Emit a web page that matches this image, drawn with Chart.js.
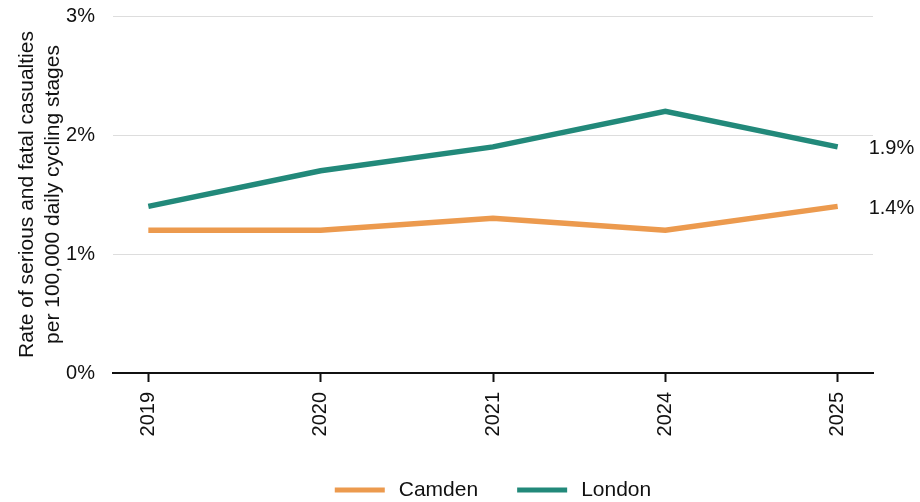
<!DOCTYPE html>
<html>
<head>
<meta charset="utf-8">
<script src="https://cdn.jsdelivr.net/npm/chart.js@4"></script>
<style>
  html, body { margin: 0; padding: 0; background: #fff; }
  #wrap { width: 920px; height: 502px; }
</style>
</head>
<body>
<div id="wrap"><canvas id="chart" width="920" height="502"></canvas></div>
<script>
var years = ['2019', '2020', '2021', '2024', '2025'];
var camden = [1.2, 1.2, 1.3, 1.2, 1.4];
var london = [1.4, 1.7, 1.9, 2.2, 1.9];
var yTicks = [0, 1, 2, 3];

var orange = '#EC9A4E';
var teal = '#22897A';
var fontFamily = '"Liberation Sans", Arial, sans-serif';

function points(values) {
    return values.map(function (v, i) {
        return { x: i, y: v };
    });
}

// value labels next to the last point of each line
var endLabels = {
    id: 'endLabels',
    afterDatasetsDraw: function (chart) {
        var ctx = chart.ctx;
        ctx.save();
        ctx.font = '20px ' + fontFamily;
        ctx.fillStyle = '#111';
        ctx.textAlign = 'left';
        ctx.textBaseline = 'middle';
        chart.data.datasets.forEach(function (ds, i) {
            var meta = chart.getDatasetMeta(i);
            var last = meta.data[meta.data.length - 1];
            var v = ds.data[ds.data.length - 1].y;
            ctx.fillText(v.toFixed(1) + '%', last.x + 31, last.y + 2);
        });
        ctx.restore();
    }
};

// line-sample legend centred under the plot area
var bottomLegend = {
    id: 'bottomLegend',
    afterDraw: function (chart) {
        var ctx = chart.ctx;
        var area = chart.chartArea;
        var sample = 50, gap = 14, between = 39;
        ctx.save();
        ctx.font = '21px ' + fontFamily;
        ctx.textBaseline = 'middle';
        ctx.textAlign = 'left';
        var widths = chart.data.datasets.map(function (ds) {
            return sample + gap + ctx.measureText(ds.label).width;
        });
        var total = widths.reduce(function (a, b) { return a + b; }, 0) + between * (widths.length - 1);
        var x = (area.left + area.right) / 2 - total / 2;
        var y = 490;
        chart.data.datasets.forEach(function (ds, i) {
            ctx.fillStyle = ds.borderColor;
            ctx.fillRect(x, y - 2.5, sample, 5);
            ctx.fillStyle = '#111';
            ctx.fillText(ds.label, x + sample + gap, y);
            x += widths[i] + between;
        });
        ctx.restore();
    }
};

var ctx = document.getElementById('chart');

var chart = new Chart(ctx, {
    type: 'line',
    data: {
        datasets: [
            {
                label: 'Camden',
                data: points(camden),
                borderColor: orange,
                backgroundColor: orange,
                borderWidth: 5.5,
                pointRadius: 0,
                tension: 0
            },
            {
                label: 'London',
                data: points(london),
                borderColor: teal,
                backgroundColor: teal,
                borderWidth: 5.5,
                pointRadius: 0,
                tension: 0
            }
        ]
    },
    options: {
        responsive: false,
        animation: false,
        layout: {
            padding: { left: 0, right: 47, top: 16, bottom: 43 }
        },
        plugins: {
            tooltip: { enabled: false },
            legend: { display: false }
        },
        scales: {
            x: {
                type: 'linear',
                min: -0.205,
                max: 4.205,
                afterBuildTicks: function (scale) {
                    scale.ticks = years.map(function (y, i) { return { value: i }; });
                },
                afterFit: function (scale) {
                    scale.height = 86;
                    scale.paddingTop = 0;
                    scale.paddingLeft = 0;
                    scale.paddingRight = 0;
                },
                ticks: {
                    autoSkip: false,
                    maxRotation: 90,
                    minRotation: 90,
                    padding: 10,
                    color: '#111',
                    font: { family: fontFamily, size: 20 },
                    callback: function (value) {
                        return years[value];
                    }
                },
                grid: {
                    drawOnChartArea: false,
                    drawTicks: true,
                    tickLength: 9,
                    tickWidth: 2,
                    tickColor: '#111'
                },
                border: { display: true, color: '#111', width: 2 }
            },
            y: {
                min: 0,
                max: 3,
                afterBuildTicks: function (scale) {
                    scale.ticks = yTicks.map(function (v) { return { value: v }; });
                },
                afterFit: function (scale) {
                    scale.width = 113;
                    scale.paddingTop = 0;
                    scale.paddingBottom = 0;
                },
                ticks: {
                    padding: 18,
                    color: '#111',
                    font: { family: fontFamily, size: 20 },
                    callback: function (value) {
                        return value + '%';
                    }
                },
                grid: {
                    color: function (c) {
                        return c.tick && c.tick.value === 0 ? 'rgba(0,0,0,0)' : '#DDDDDD';
                    },
                    lineWidth: 1,
                    drawTicks: false
                },
                border: { display: false },
                title: {
                    display: true,
                    text: ['Rate of serious and fatal casualties', 'per 100,000 daily cycling stages'],
                    color: '#111',
                    font: { family: fontFamily, size: 21, lineHeight: 1.25 },
                    padding: { top: 14, bottom: 0 }
                }
            }
        }
    },
    plugins: [endLabels, bottomLegend]
});
</script>
</body>
</html>
